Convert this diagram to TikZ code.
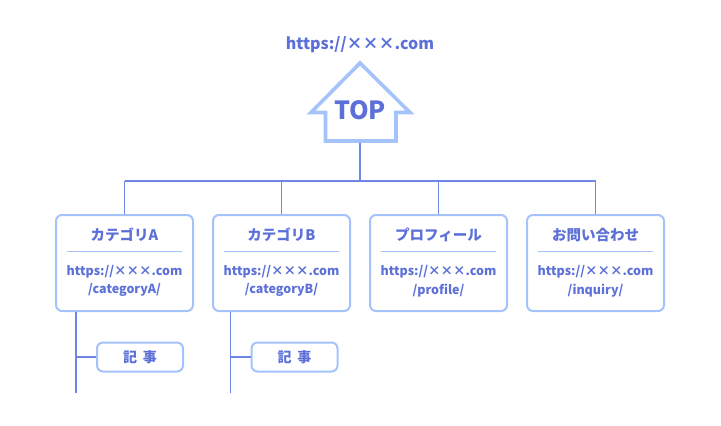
\documentclass[tikz,border=0pt]{standalone}
\usepackage{fontspec}
\newfontfamily\jpfont{Noto Sans CJK JP}
\usetikzlibrary{positioning,calc}
\definecolor{sitetext}{HTML}{5C70D8}
\definecolor{siteline}{HTML}{6E86E6}
\definecolor{siteframe}{HTML}{A3C3FA}

\begin{document}
\begin{tikzpicture}[
		x=1pt, y=-1pt,
		page/.style={ % カテゴリの枠
			draw=siteframe, line width=2pt,
			rounded corners=6pt,
			minimum width=137pt, minimum height=96pt
		},
		post/.style={ % 記事の枠
			draw=siteframe, line width=2pt,
			rounded corners=6pt,
			minimum width=86pt, minimum height=29pt,
			text=sitetext, font=\jpfont\bfseries\fontsize{14}{16}\selectfont
		},
		title/.style={
			text=sitetext, font=\jpfont\bfseries\fontsize{14.5}{17}\selectfont
		},
		url/.style={
			text=sitetext, align=center,
			font=\jpfont\bfseries\fontsize{12.5}{18.6}\selectfont
		},
		link/.style={ % 階層の線
			draw=siteline, line width=1.8pt
		},
		rule/.style={
			draw=siteframe, line width=0.9pt
		}
		]
		\useasboundingbox (0,0) rectangle (721,426);
		
		% ================= TOP =================
		\node[text=sitetext, font=\jpfont\bfseries\fontsize{16}{18}\selectfont] (home) at (360,45) {https://×××.com};
		\draw[draw=siteframe, line width=3.6pt, line join=miter]
			(360,63) -- (311,112.5) -- (325.5,112.5) -- (325.5,141) -- (396,141) -- (396,112.5) -- (410,112.5) -- cycle;
		\node[text=sitetext, font=\jpfont\bfseries\fontsize{25}{28}\selectfont] (top) at (360,110) {TOP};
		\coordinate (topbase) at (360,143);
		
		% ================= 各ページ =================
		\foreach \name/\slug [count=\i] in {カテゴリA/categoryA, カテゴリB/categoryB, プロフィール/profile, お問い合わせ/inquiry} {
			\node[page] (c\i) at (124.5+157*\i-157, 263) {};
			\node[title] (c\i-t) at ($(c\i.north)+(0,21)$) {\name};
			\draw[rule] ($(c\i.north west)+(12,37)$) -- ($(c\i.north east)+(-12,37)$);
			\node[url] (c\i-u) at ($(c\i.north)+(0,67)$) {https://×××.com\\/\slug/};
		}
		
		% 階層の線
		\draw[link] (topbase) -- ++(0,38) coordinate (bus);
		\draw[link] (bus -| c1.north) -- (bus -| c4.north);
		\foreach \i in {1,...,4} {
			\draw[link] (bus -| c\i.north) -- (c\i.north);
		}
		
		% ================= 記事 =================
		\foreach \i/\dx in {1/21, 2/18.5} {
			\coordinate (t\i) at ($(c\i.south west)+(\dx,0)$);
			\node[post] (k\i) at ($(t\i)+(64,45)$) {記\hspace{0.4em}事};
			\draw[link] (t\i) -- ++(0,81);
			\draw[link] (t\i |- k\i.west) -- (k\i.west);
		}
		
	\end{tikzpicture}
\end{document}
